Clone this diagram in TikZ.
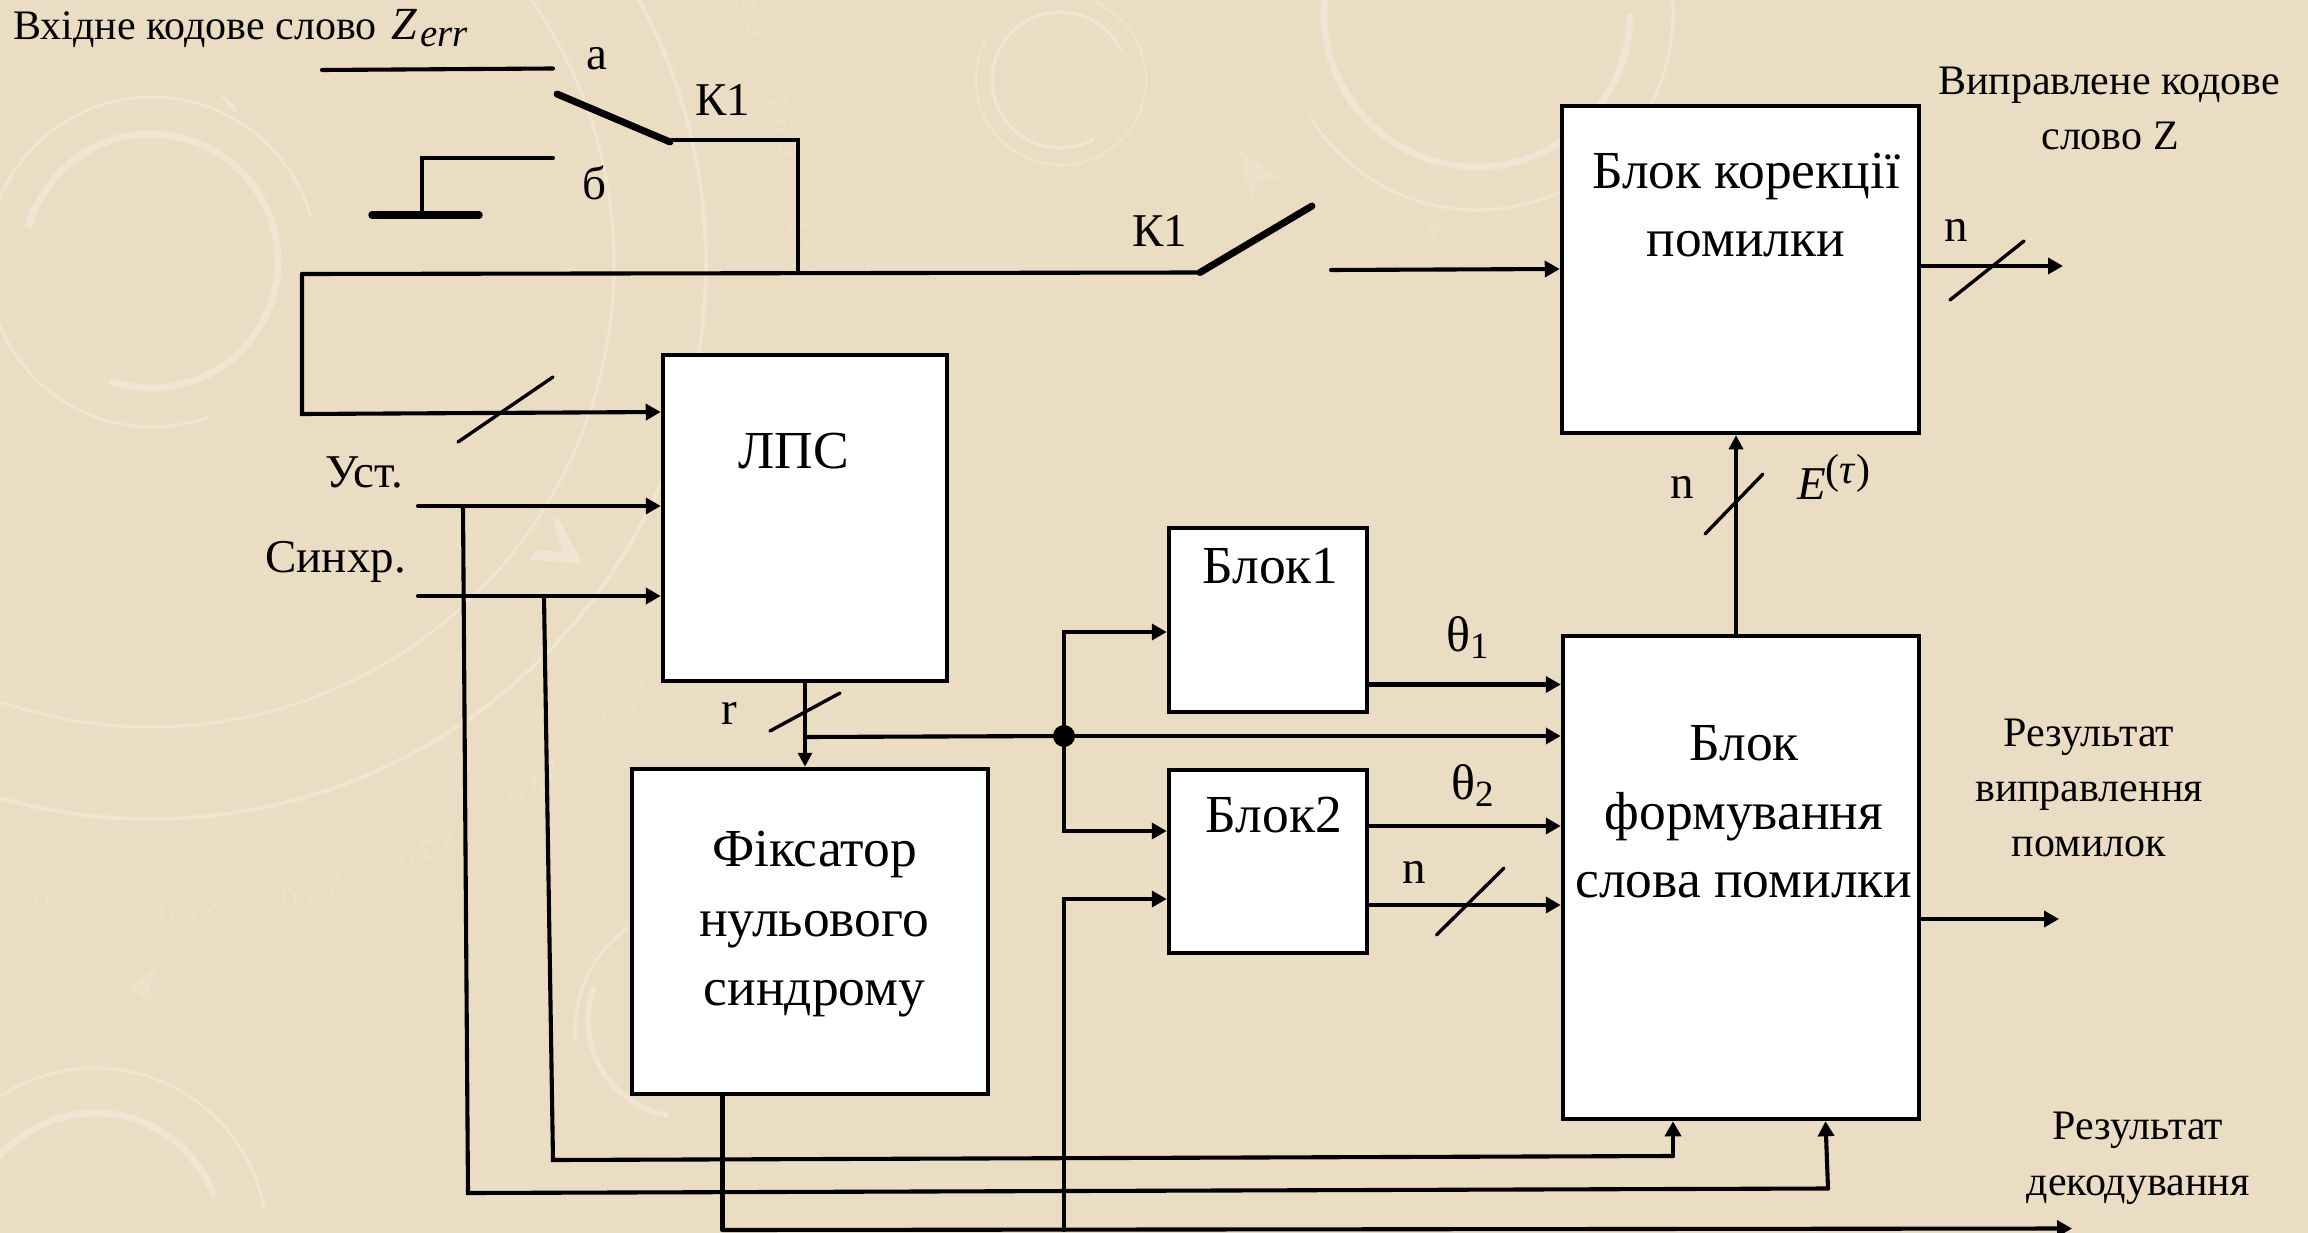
\documentclass[tikz,border=0pt]{standalone}
\usepackage{fontspec}
\setmainfont{Liberation Serif}
\newfontfamily\ornfont[LetterSpace=28]{Liberation Sans}
\usetikzlibrary{arrows.meta,calc}
\definecolor{bgc}{HTML}{EBDDC3}
\definecolor{orn}{HTML}{EFE5D2}
\colorlet{ornf}{orn!55!bgc}
\newcommand{\ornarc}[6]{\draw[orn,line width=#6pt] plot[domain=#4:#5,samples=90,smooth] ({#1+#3*cos(\x)},{#2+#3*sin(\x)});}
\tikzset{
  x=1pt,y=-1pt,
  boxn/.style={draw=black,fill=white,line width=4.5pt,inner sep=0pt,minimum width=#1},
  conn/.style={draw=black,line width=4.1pt,line cap=round},
  arr/.style={conn,-{Triangle[length=15pt,width=16pt]}},
  thinarr/.style={draw=black,line width=3.2pt,-{Triangle[length=14pt,width=14pt]}},
  slash/.style={draw=black,line width=3.4pt,line cap=round},
  swt/.style={draw=black,line width=7pt,line cap=round},
  txt/.style={inner sep=0pt,anchor=base,text=black,align=center},
  fsm/.style={txt,yshift=-1.5pt,font=\fontsize{42}{42}\selectfont},
  fmd/.style={txt,yshift=-2pt,font=\fontsize{47}{47}\selectfont},
  fbg/.style={txt,yshift=-2pt,font=\fontsize{53.5}{53.5}\selectfont},
  dots/.style={draw=ornf,line width=3pt,line cap=round,dash pattern=on 0.1pt off 12pt},
}
\begin{document}
\begin{tikzpicture}
\useasboundingbox (0,0) rectangle (2308,1233);
\fill[bgc] (0,0) rectangle (2308,1233);
% background ornaments
\begin{scope}
\clip (0,0) rectangle (2308,1233);
\ornarc{151}{261}{127}{195}{469}{7}
\ornarc{152}{262}{165}{70}{344}{3}
\ornarc{151}{264}{463}{-40}{125}{3}
\ornarc{151}{264}{555}{-40}{125}{4}
\foreach \a in {-30,-27.8,...,112}{
  \draw[ornf,line width=1.2pt] ({151+573*cos(\a)},{264+573*sin(\a)}) -- ({151+603*cos(\a)},{264+603*sin(\a)});
  \draw[ornf,line width=1.2pt] ({151+414*cos(\a)},{264+414*sin(\a)}) -- ({151+436*cos(\a)},{264+436*sin(\a)});
}
\foreach \v in {150,160,170,210,220,230,240,250,260}{
  \pgfmathsetmacro{\ang}{86.6+(\v-250)*1.1}
  \pgfmathsetmacro{\rot}{-(\ang+90)}
  \node[text=ornf,inner sep=0pt,rotate=\rot,font=\ornfont\fontsize{28}{28}\selectfont] (orn\v) at ({151+648*cos(\ang)},{264+648*sin(\ang)}) {\v};
}
\ornarc{1477}{14}{153}{0}{186}{7}
\ornarc{1477}{14}{196}{-10}{148}{3}
\ornarc{1060}{80}{68}{-300}{-26}{3.5}
\ornarc{1061}{80}{85}{-66}{208}{1.6}
\ornarc{95}{1240}{127}{190}{340}{7}
\ornarc{95}{1240}{172}{180}{350}{3}
\ornarc{700}{1030}{125}{175}{235}{3}
\ornarc{685}{1020}{97}{100}{200}{5}
\fill[orn] (558,517) -- (582,563) -- (530,560) -- (535,550) -- (563,552) -- (553,522) -- cycle;
\fill[ornf] (1239,150) -- (1280,178) -- (1257,180) -- (1252,200) -- cycle;
\fill[ornf] (1425,218) -- (1433,237) -- (1446,222) -- (1434,226) -- cycle;
\fill[ornf] (130,988) -- (155,968) -- (150,988) -- (155,1005) -- cycle;
\draw[orn,line width=4pt,line cap=round,line join=round] (224,97) -- (235,110);
\draw[dots] (540,257) -- (971,0);
\draw[dots] (1252,190) -- (1310,250) .. controls (1380,285) and (1480,290) .. (1560,278);
\draw[dots] (0,837) -- (400,1120);
\end{scope}

% boxes
\node[boxn=284pt,minimum height=326pt] (lps) at (805,518) {};
\node[boxn=356pt,minimum height=325pt] (fix) at (810,931.5) {};
\node[boxn=198pt,minimum height=184pt] (b1) at (1268,620) {};
\node[boxn=198pt,minimum height=183pt] (b2) at (1268,861.5) {};
\node[boxn=357pt,minimum height=327pt] (cor) at (1740.5,269.5) {};
\node[boxn=356pt,minimum height=483pt] (form) at (1741,877.5) {};

% free ends
\coordinate (aS) at (322,70);  \coordinate (aE) at (553,68.5);
\coordinate (swA) at (557,94); \coordinate (swB) at (670,142);
\coordinate (swC) at (670,140);\coordinate (upT) at (798,140);
\coordinate (upB) at (798,272);
\coordinate (bE) at (553,158); \coordinate (bC) at (422,158);
\coordinate (gnd) at (422,215);\coordinate (gL) at (372,215); \coordinate (gR) at (479,215);
\coordinate (busL) at (302,274); \coordinate (busR) at (1200,272.5);
\coordinate (sw2) at (1312,206); \coordinate (cIn) at (1331,270);
\coordinate (lftB) at (302,414);
\coordinate (ust) at (418,506); \coordinate (syn) at (418,596);
\coordinate (v1T) at (463,506); \coordinate (v1B) at (468,1193);
\coordinate (v1R) at (1828,1188.5);
\coordinate (v2T) at (544,596); \coordinate (v2B) at (553,1160);
\coordinate (v2R) at (1673,1156);
\coordinate (fixB) at (722.5,1230); \coordinate (resD) at (2072,1228.5);
\coordinate (b2V) at (1064,1230);
\coordinate (lpsJ) at (805,737);
\coordinate (outR) at (2059,919); \coordinate (outZ) at (2063,266);
\node[circle,fill=black,minimum size=22pt,inner sep=0pt] (j) at (1064,736) {};

% connectors
\draw[conn] (aS) -- (aE);
\draw[swt] (swA) -- (swB);
\draw[conn] (swC) -- (upT) -- (upB);
\draw[conn] (bE) -- (bC) -- (gnd);
\draw[draw=black,line width=7.5pt,line cap=round] (gL) -- (gR);
\draw[conn] (busL) -- (busR);
\draw[swt] (busR) -- (sw2);
\draw[arr] (cIn) -- (cor.west |- 0,269);
\draw[arr] (busL) -- (lftB) -- (lps.west |- 0,412);
\draw[arr] (ust) -- (lps.west |- 0,506);
\draw[arr] (syn) -- (lps.west |- 0,596);
\draw[conn] (v1T) -- (v1B) -- (v1R);
\draw[arr] (v1R) -- (form.south -| 1825.5,0);
\draw[conn] (v2T) -- (v2B) -- (v2R);
\draw[arr] (v2R) -- (form.south -| 1673,0);
\draw[conn] (fix.south -| 722.5,0) -- (fixB);
\draw[arr] (fixB) -- (resD);
\draw[arr] (b2V) -- (1064,899) -- (b2.west |- 0,899);
\draw[thinarr] (lps.south -| 805,0) -- (fix.north -| 805,0);
\draw[conn] (lpsJ) -- (j);
\draw[arr] (j) -- (form.west |- 0,736);
\draw[arr] (j) |- (b1.west |- 0,632);
\draw[arr] (j) |- (b2.west |- 0,831);
\draw[arr] (b1.east |- 0,684.5) -- (form.west |- 0,684.5);
\draw[arr] (b2.east |- 0,826) -- (form.west |- 0,826);
\draw[arr] (b2.east |- 0,905) -- (form.west |- 0,905);
\draw[arr] (form.east |- 0,919) -- (outR);
\draw[thinarr] (form.north -| 1736,0) -- (cor.south -| 1736,0);
\draw[arr] (cor.east |- 0,266) -- (outZ);

% bus slashes
\coordinate (s1a) at (458,442); \coordinate (s1b) at (553,377);
\coordinate (s2a) at (770,731); \coordinate (s2b) at (840,693);
\coordinate (s3a) at (1436.5,935); \coordinate (s3b) at (1504,868);
\coordinate (s4a) at (1705,534); \coordinate (s4b) at (1763,474);
\coordinate (s5a) at (1950,300); \coordinate (s5b) at (2024,241);
\draw[slash] (s1a) -- (s1b);
\draw[slash] (s2a) -- (s2b);
\draw[slash] (s3a) -- (s3b);
\draw[slash] (s4a) -- (s4b);
\draw[slash] (s5a) -- (s5b);

% texts
\node[fsm,anchor=base west] (t1) at (13,38) {Вхідне кодове слово\hspace{4pt} {\fontsize{46}{46}\selectfont\textit{Z}}\hspace{3pt}\raisebox{-7pt}{\fontsize{39}{39}\selectfont\textit{err}}};
\node[fmd] (ta) at (597,68) {а};
\node[fmd] (tk1) at (723,114) {К1};
\node[fmd] (tb) at (594,197.5) {б};
\node[fbg] (tlps) at (794,466) {ЛПС};
\node[fmd,anchor=base east] (tust) at (403,485.5) {Уст.};
\node[fmd,anchor=base east] (tsyn) at (406,570) {Синхр.};
\node[fmd] (tk2) at (1159.5,245) {К1};
\node[fbg] (tc1) at (1746,186.5) {Блок корекції};
\node[fbg] (tc2) at (1746,255) {помилки};
\node[fmd] (tn1) at (1956,240) {n};
\node[fsm] (tv1) at (2109,93) {Виправлене кодове};
\node[fsm] (tv2) at (2110,148) {слово Z};
\node[fmd] (tn2) at (1682,496) {n};
\node[fmd,anchor=base west] (tE) at (1797,497) {\textit{E}\raisebox{16pt}{\fontsize{42}{42}\selectfont(\textit{τ})}};
\node[fbg] (tb1) at (1270.5,581) {Блок1};
\node[fbg] (tb2) at (1274,830) {Блок2};
\node[txt,yshift=-2pt,anchor=base west,font=\fontsize{50}{50}\selectfont] (tt1) at (1446,649) {θ\raisebox{-7pt}{\fontsize{37}{37}\selectfont 1}};
\node[txt,yshift=-2pt,anchor=base west,font=\fontsize{50}{50}\selectfont] (tt2) at (1451,797) {θ\raisebox{-7pt}{\fontsize{37}{37}\selectfont 2}};
\node[fmd] (tn3) at (1414,881) {n};
\node[fbg] (tf1) at (1744,758) {Блок};
\node[fbg] (tf2) at (1744,827) {формування};
\node[fbg] (tf3) at (1744,895) {слова помилки};
\node[fsm] (tr1) at (2089,745) {Результат};
\node[fsm] (tr2) at (2089,800) {виправлення};
\node[fsm] (tr3) at (2089,855) {помилок};
\node[fsm] (td1) at (2138,1138) {Результат};
\node[fsm] (td2) at (2138,1194) {декодування};
\node[fmd] (tr) at (729.5,722) {r};
\node[fbg] (tx1) at (814.5,864.5) {Фіксатор};
\node[fbg] (tx2) at (814,934.5) {нульового};
\node[fbg] (tx3) at (814.5,1003) {синдрому};
\end{tikzpicture}
\end{document}
